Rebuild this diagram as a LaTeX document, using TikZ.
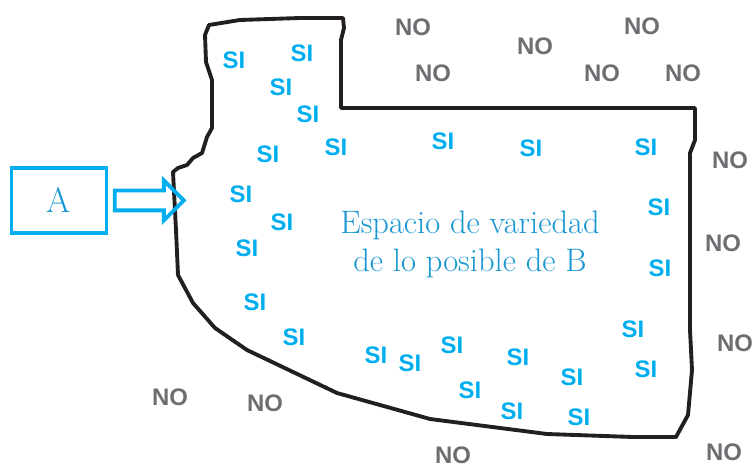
\documentclass[tikz,border=0pt]{standalone}
\usepackage{fontspec}
\usepackage{tikz}
\usetikzlibrary{positioning,shapes.arrows}
\newfontfamily\sinofont{Liberation Sans}
\definecolor{cian}{RGB}{0,174,239}
\definecolor{azul}{RGB}{24,150,210}
\definecolor{gris}{RGB}{109,110,113}
\definecolor{negro}{RGB}{35,31,32}

\begin{document}
\begin{tikzpicture}[scale=0.2]
\tikzstyle{every node}+=[inner sep=0pt]
\tikzstyle{si}=[text=cian,font=\sinofont\bfseries\fontsize{13.6}{14}\selectfont]
\tikzstyle{no}=[text=gris,font=\sinofont\bfseries\fontsize{13.6}{14}\selectfont]
\useasboundingbox (0,0) rectangle (75.6,-46.7);
% espacio de B
\draw [negro,line width=2.2pt,line join=round] (20.9,-2.5) -- (24.0,-2.0) -- (30.0,-1.8) -- (34.3,-1.8)
  -- (34.4,-2.8) -- (34.1,-4.0) -- (34.1,-10.8) -- (69.5,-10.8) -- (69.5,-14.0) -- (69.0,-15.3)
  -- (69.0,-33.0) -- (69.2,-37.0) -- (68.8,-41.5) -- (67.6,-43.7) -- (63.3,-43.7) -- (54.7,-43.4)
  -- (43.0,-41.9) -- (38.0,-40.5) -- (33.7,-39.3) -- (24.7,-35.0) -- (21.5,-32.8) -- (19.3,-30.3)
  -- (17.8,-27.5) -- (17.6,-23.0) -- (17.3,-17.2) -- (17.8,-16.8) -- (18.7,-16.5) -- (19.3,-15.8)
  -- (20.2,-15.3) -- (20.7,-13.7) -- (21.2,-12.8) -- (21.2,-8.0) -- (20.6,-6.2) -- (20.5,-3.5) -- cycle;
\draw (47.0,-24.4) node [text=azul,align=center,font=\fontsize{18.5}{21.5}\selectfont] (b) {Espacio de variedad\\de lo posible de B};
% A
\draw (5.9,-20.05) node [draw=cian,line width=2.2pt,minimum width=1.9cm,minimum height=1.3cm,text=azul,font=\fontsize{20}{22}\selectfont] (a) {A};
\draw (0,0) node [single arrow,draw=cian,line width=2.2pt,inner sep=0.16cm,minimum height=1.38cm,minimum width=0.74cm,single arrow head extend=0.2cm,right=2.5pt of a] (flecha) {};
% SI
\draw (23.4,-6.0) node [si] (si1) {SI};
\draw (30.2,-5.3) node [si] (si2) {SI};
\draw (28.1,-8.7) node [si] (si3) {SI};
\draw (30.8,-11.4) node [si] (si4) {SI};
\draw (33.6,-14.7) node [si] (si5) {SI};
\draw (26.8,-15.4) node [si] (si6) {SI};
\draw (44.3,-14.1) node [si] (si7) {SI};
\draw (53.1,-14.8) node [si] (si8) {SI};
\draw (64.6,-14.7) node [si] (si9) {SI};
\draw (24.1,-19.4) node [si] (si10) {SI};
\draw (28.2,-22.2) node [si] (si11) {SI};
\draw (65.9,-20.7) node [si] (si12) {SI};
\draw (24.7,-24.8) node [si] (si13) {SI};
\draw (66.0,-26.8) node [si] (si14) {SI};
\draw (25.5,-30.2) node [si] (si15) {SI};
\draw (29.4,-33.7) node [si] (si16) {SI};
\draw (63.3,-32.9) node [si] (si17) {SI};
\draw (37.6,-35.5) node [si] (si18) {SI};
\draw (41.0,-36.3) node [si] (si19) {SI};
\draw (45.2,-34.5) node [si] (si20) {SI};
\draw (51.8,-35.7) node [si] (si21) {SI};
\draw (64.6,-36.9) node [si] (si22) {SI};
\draw (47.0,-39.0) node [si] (si23) {SI};
\draw (57.2,-37.7) node [si] (si24) {SI};
\draw (51.2,-41.1) node [si] (si25) {SI};
\draw (57.9,-41.7) node [si] (si26) {SI};
% NO
\draw (41.3,-2.7) node [no] (no1) {NO};
\draw (53.5,-4.6) node [no] (no2) {NO};
\draw (64.2,-2.6) node [no] (no3) {NO};
\draw (43.3,-7.3) node [no] (no4) {NO};
\draw (60.2,-7.3) node [no] (no5) {NO};
\draw (68.3,-7.3) node [no] (no6) {NO};
\draw (73.0,-16.0) node [no] (no7) {NO};
\draw (72.3,-24.3) node [no] (no8) {NO};
\draw (73.5,-34.3) node [no] (no9) {NO};
\draw (17.0,-39.7) node [no] (no10) {NO};
\draw (26.5,-40.3) node [no] (no11) {NO};
\draw (45.3,-45.5) node [no] (no12) {NO};
\draw (72.4,-45.2) node [no] (no13) {NO};
\end{tikzpicture}
\end{document}
